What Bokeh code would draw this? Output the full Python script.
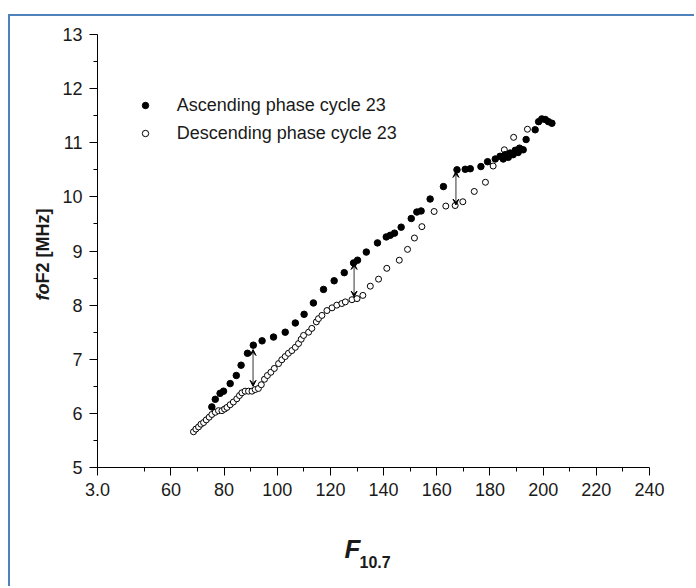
import math
from bokeh.plotting import figure
from bokeh.models import (ColumnDataSource, Range1d, FixedTicker, Label, Legend, LegendItem,
                          Arrow, VeeHead)
from bokeh.embed import file_html
from bokeh.resources import INLINE

# ---------------- data ----------------
asc_f107 = [75.4, 76.7, 78.5, 79.8, 82.3, 84.6, 86.4, 88.8, 91.0, 94.3, 98.6, 103.0, 106.8,
            110.1, 113.6, 117.4, 121.4, 125.2, 128.7, 130.2, 133.5, 137.7, 141.0, 142.5,
            144.1, 146.6, 150.4, 152.5, 154.1, 157.5, 162.5, 167.6, 170.7, 172.6, 176.6,
            179.1, 182.0, 183.8, 185.0, 185.7, 186.9, 187.6, 188.7, 189.5, 190.6, 191.1,
            192.5, 193.6, 197.0, 198.3, 199.5, 200.8, 202.0, 203.3]
asc_fof2 = [6.12, 6.26, 6.37, 6.41, 6.55, 6.70, 6.89, 7.11, 7.26, 7.34, 7.41, 7.50, 7.67,
            7.83, 8.04, 8.29, 8.45, 8.60, 8.78, 8.83, 8.98, 9.15, 9.26, 9.29, 9.33, 9.44,
            9.60, 9.72, 9.74, 9.96, 10.19, 10.50, 10.51, 10.52, 10.56, 10.65, 10.70, 10.75,
            10.70, 10.78, 10.73, 10.81, 10.78, 10.86, 10.82, 10.90, 10.87, 11.06, 11.24,
            11.39, 11.44, 11.43, 11.39, 11.36]

desc_f107 = [68.5, 69.4, 70.4, 71.3, 72.3, 73.3, 74.4, 75.4, 76.7, 77.9, 79.2, 80.2, 81.1,
             82.3, 83.5, 84.8, 85.8, 86.7, 87.9, 89.2, 90.5, 91.7, 92.9, 94.0, 95.2, 96.3,
             97.6, 98.9, 100.5, 101.7, 103.0, 104.2, 105.5, 106.8, 108.0, 109.0, 109.9,
             111.8, 113.0, 114.7, 115.5, 116.8, 118.7, 120.6, 122.4, 124.3, 125.6, 128.1,
             130.0, 132.2, 135.0, 138.1, 141.2, 145.9, 149.0, 151.6, 154.4, 159.0, 163.4,
             166.9, 169.8, 174.1, 178.3, 181.2, 185.4, 188.9, 194.1]
desc_fof2 = [5.66, 5.71, 5.75, 5.80, 5.83, 5.88, 5.93, 5.98, 6.02, 6.05, 6.05, 6.08, 6.11,
             6.16, 6.21, 6.27, 6.33, 6.38, 6.41, 6.41, 6.41, 6.44, 6.46, 6.53, 6.63, 6.70,
             6.76, 6.83, 6.92, 6.99, 7.05, 7.11, 7.16, 7.22, 7.29, 7.37, 7.44, 7.50, 7.57,
             7.69, 7.75, 7.81, 7.90, 7.95, 8.00, 8.03, 8.06, 8.10, 8.12, 8.18, 8.35, 8.48,
             8.68, 8.83, 9.03, 9.24, 9.45, 9.73, 9.83, 9.84, 9.91, 10.10, 10.27, 10.57,
             10.87, 11.10, 11.25]

arrow_f107 = [90.9, 128.9, 167.2]
arrow_top = [7.18, 8.77, 10.47]
arrow_bottom = [6.50, 8.15, 9.85]

x_ticks = [32.4, 60, 80, 100, 120, 140, 160, 180, 200, 220, 240]
x_minor = [50, 70, 90, 110, 130, 150, 170, 190, 210, 230]
y_ticks = [5, 6, 7, 8, 9, 10, 11, 12, 13]
y_minor = [5.5, 6.5, 7.5, 8.5, 9.5, 10.5, 11.5, 12.5]

FONT = "Liberation Sans"
TXT = "#1a1a1a"

p = figure(width=686, height=572, output_backend="svg", toolbar_location=None,
           x_range=Range1d(32.4, 240), y_range=Range1d(5, 13),
           min_border_left=87, min_border_right=47, min_border_top=18, min_border_bottom=121)
p.margin = (14, 0, 0, 8)
p.styles = {"border-top": "2px solid #4F81BD", "border-left": "2px solid #4F81BD",
            "border-right": "none", "border-bottom": "none"}
p.background_fill_color = "white"
p.border_fill_color = "white"
p.outline_line_color = None
p.xgrid.visible = False
p.ygrid.visible = False

for ax in (p.xaxis[0], p.yaxis[0]):
    ax.axis_line_color = "black"
    ax.axis_line_width = 1
    ax.major_tick_line_color = "black"
    ax.minor_tick_line_color = "black"
    ax.major_tick_in = 0
    ax.major_tick_out = 8
    ax.minor_tick_in = 0
    ax.minor_tick_out = 4
    ax.major_label_text_font = FONT
    ax.major_label_text_font_size = "18px"
    ax.major_label_text_color = TXT
    ax.major_label_standoff = 7

p.xaxis[0].ticker = FixedTicker(ticks=x_ticks, minor_ticks=x_minor)
p.yaxis[0].ticker = FixedTicker(ticks=y_ticks, minor_ticks=y_minor)
p.xaxis[0].major_label_overrides = {32.4: "3.0"}

src_a = ColumnDataSource(dict(x=asc_f107, y=asc_fof2))
src_d = ColumnDataSource(dict(x=desc_f107, y=desc_fof2))
r_d = p.scatter("x", "y", source=src_d, size=6, marker="circle",
                fill_color="white", line_color="black", line_width=1)
r_a = p.scatter("x", "y", source=src_a, size=6.5, marker="circle",
                fill_color="black", line_color="black", line_width=1)

src_arr = ColumnDataSource(dict(x=arrow_f107, y0=arrow_top, y1=arrow_bottom))
p.add_layout(Arrow(start=VeeHead(size=6, fill_color="black", line_color="black", line_width=1),
                   end=VeeHead(size=6, fill_color="black", line_color="black", line_width=1),
                   x_start="x", y_start="y0", x_end="x", y_end="y1", source=src_arr,
                   line_color="#555555", line_width=1.2))

legend = Legend(items=[LegendItem(label="Ascending phase cycle 23", renderers=[r_a]),
                       LegendItem(label="Descending phase cycle 23", renderers=[r_d])],
                location=(39.7, 322.7), glyph_width=16, glyph_height=16, label_height=22,
                label_standoff=24, spacing=6, padding=0, margin=0,
                border_line_color=None, background_fill_alpha=0,
                label_text_font=FONT, label_text_font_size="18px", label_text_color=TXT)
p.add_layout(legend)

# axis titles (canvas coordinates, placed in the side panels so they are not clipped)
p.add_layout(Label(x=30, y=282, x_units="canvas", y_units="canvas", text="fo",
                   angle=math.pi / 2, text_align="left", text_baseline="middle",
                   text_font=FONT, text_font_size="18px", text_font_style="bold italic",
                   text_color=TXT), "left")
p.add_layout(Label(x=30, y=265, x_units="canvas", y_units="canvas", text="F2 [MHz]",
                   angle=math.pi / 2, text_align="left", text_baseline="middle",
                   text_font=FONT, text_font_size="18px", text_font_style="bold",
                   text_color=TXT), "left")
p.add_layout(Label(x=332, y=530, x_units="canvas", y_units="canvas", text="F",
                   text_align="left", text_baseline="alphabetic",
                   text_font=FONT, text_font_size="26px", text_font_style="bold italic",
                   text_color=TXT), "below")
p.add_layout(Label(x=347, y=543, x_units="canvas", y_units="canvas", text="10.7",
                   text_align="left", text_baseline="alphabetic",
                   text_font=FONT, text_font_size="16px", text_font_style="bold",
                   text_color=TXT), "below")

open("out.html", "w").write(file_html(p, INLINE))
